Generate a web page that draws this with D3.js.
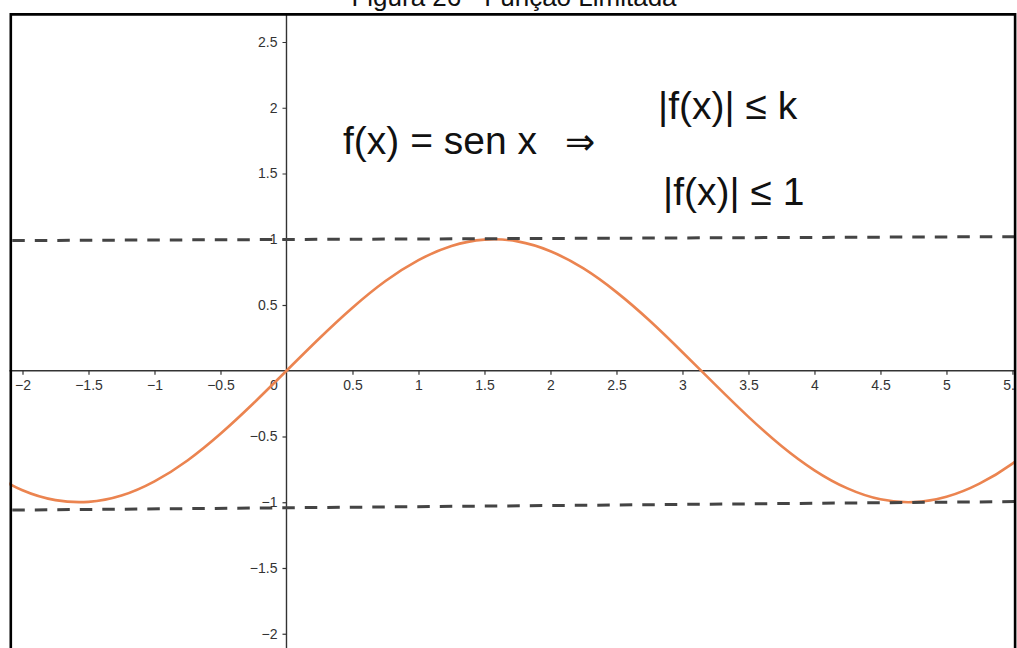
<!DOCTYPE html>
<html>
<head>
<meta charset="utf-8">
<script src="https://cdn.jsdelivr.net/npm/d3@7"></script>
<style>
  html, body { margin: 0; padding: 0; background: #fff; }
  svg { display: block; font-family: "Liberation Sans", Arial, sans-serif; }
</style>
</head>
<body>
<svg id="chart" width="1017" height="648"></svg>
<script>
// Samples of f(x) = sen x
const curveX = [-2.25, -2, -1.75, -1.5, -1.25, -1, -0.75, -0.5, -0.25, 0,
                0.25, 0.5, 0.75, 1, 1.25, 1.5, 1.75, 2, 2.25, 2.5, 2.75,
                3, 3.25, 3.5, 3.75, 4, 4.25, 4.5, 4.75, 5, 5.25, 5.5, 5.75];
const curveY = [-0.778, -0.909, -0.984, -0.997, -0.949, -0.841, -0.682, -0.479, -0.247, 0,
                0.247, 0.479, 0.682, 0.841, 0.949, 0.997, 0.984, 0.909, 0.778, 0.598, 0.382,
                0.141, -0.108, -0.351, -0.572, -0.757, -0.895, -0.978, -0.999, -0.959, -0.859, -0.706, -0.508];

// Bounding dashed lines (endpoints in x, y)
const upperBoundX = [-2.1, 5.52];
const upperBoundY = [0.99, 1.02];
const lowerBoundX = [-2.1, 5.52];
const lowerBoundY = [-1.06, -0.995];

// Axis ticks
const xTicks = [-2, -1.5, -1, -0.5, 0, 0.5, 1, 1.5, 2, 2.5, 3, 3.5, 4, 4.5, 5, 5.5];
const yTicks = [-2, -1.5, -1, -0.5, 0.5, 1, 1.5, 2, 2.5];

const xDomain = [-2.1, 5.52];
const yDomain = [-2.11, 2.71];

const titleText = "Figura 26 - Função Limitada";

const svg = d3.select("#chart");
const frame = { left: 9.3, right: 1015.1, top: 14.4, bottom: 648.2 };

const x = d3.scaleLinear().domain(xDomain).range([frame.left, frame.right]);
const y = d3.scaleLinear().domain(yDomain).range([frame.bottom, frame.top]);

const fmt = v => d3.format("")(v).replace("-", "\u2212");

// Title
svg.append("text")
  .attr("x", 514).attr("y", 6)
  .attr("text-anchor", "middle")
  .attr("font-size", 26)
  .attr("fill", "#111")
  .text(titleText);

svg.append("defs").append("clipPath").attr("id", "plotClip")
  .append("rect")
  .attr("x", frame.left).attr("y", frame.top)
  .attr("width", frame.right - frame.left).attr("height", frame.bottom - frame.top);

const plot = svg.append("g").attr("clip-path", "url(#plotClip)");

// Axes lines
plot.append("line")
  .attr("x1", frame.left).attr("x2", frame.right)
  .attr("y1", y(0)).attr("y2", y(0))
  .attr("stroke", "#333").attr("stroke-width", 1.4);
plot.append("line")
  .attr("x1", x(0)).attr("x2", x(0))
  .attr("y1", frame.top).attr("y2", frame.bottom)
  .attr("stroke", "#333").attr("stroke-width", 1.4);

// X axis ticks and labels
const xAxis = d3.axisBottom(x)
  .tickValues(xTicks)
  .tickSize(4)
  .tickPadding(5)
  .tickFormat(fmt);
const gx = plot.append("g")
  .attr("transform", `translate(0,${y(0)})`)
  .call(xAxis);
gx.select(".domain").remove();
gx.selectAll(".tick line").attr("stroke", "#333").attr("stroke-width", 1.2);
gx.selectAll(".tick text")
  .attr("font-size", 14)
  .attr("fill", "#333")
  .attr("font-family", "Liberation Sans, Arial, sans-serif")
  .filter(d => d === 0)
  .attr("dx", -13);
gx.selectAll(".tick").filter(d => d === 0).select("line").remove();

// Y axis ticks and labels
const yAxis = d3.axisLeft(y)
  .tickValues(yTicks)
  .tickSize(4)
  .tickPadding(5)
  .tickFormat(fmt);
const gy = plot.append("g")
  .attr("transform", `translate(${x(0)},0)`)
  .call(yAxis);
gy.select(".domain").remove();
gy.selectAll(".tick line").attr("stroke", "#333").attr("stroke-width", 1.2);
gy.selectAll(".tick text")
  .attr("font-size", 14)
  .attr("fill", "#333")
  .attr("font-family", "Liberation Sans, Arial, sans-serif");

// Sine curve
const pts = curveX.map((v, i) => [v, curveY[i]]);
plot.append("path")
  .datum(pts)
  .attr("d", d3.line().x(d => x(d[0])).y(d => y(d[1])).curve(d3.curveNatural))
  .attr("fill", "none")
  .attr("stroke", "#EB8450")
  .attr("stroke-width", 2.6);

// Bound lines
[[upperBoundX, upperBoundY], [lowerBoundX, lowerBoundY]].forEach(([bx, by]) => {
  plot.append("line")
    .attr("x1", x(bx[0])).attr("y1", y(by[0]))
    .attr("x2", x(bx[1])).attr("y2", y(by[1]))
    .attr("stroke", "#444")
    .attr("stroke-width", 3)
    .attr("stroke-dasharray", "12.5,10")
    .attr("stroke-dashoffset", -3);
});

// Annotations
const ann = svg.append("g").attr("fill", "#111").attr("font-size", 39);
ann.append("text").attr("x", 343).attr("y", 154).text("f(x) = sen x");
ann.append("text").attr("x", 565).attr("y", 154).attr("font-size", 36)
  .attr("font-family", "DejaVu Sans, sans-serif").text("\u21D2");
ann.append("text").attr("x", 658).attr("y", 119).text("|f(x)| \u2264 k");
ann.append("text").attr("x", 663).attr("y", 205).text("|f(x)| \u2264 1");

// Frame border
svg.append("path")
  .attr("d", `M${frame.left + 1.5},${frame.bottom + 2} V${frame.top} H${frame.right} V${frame.bottom + 2}`)
  .attr("fill", "none")
  .attr("stroke", "#000")
  .attr("stroke-width", 2.6);
</script>
</body>
</html>
